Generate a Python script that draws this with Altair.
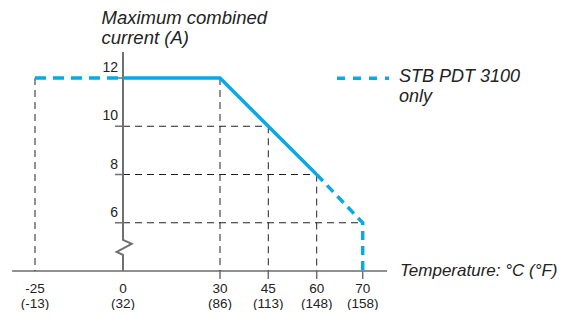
import altair as alt
import pandas as pd

# ---- data ----
temp_ticks = [-25, 0, 30, 45, 60, 70]
temp_f = ["(-13)", "(32)", "(86)", "(113)", "(148)", "(158)"]
current_ticks = [6, 8, 10, 12]

solid_temp = [0, 30, 60]
solid_current = [12, 12, 8]
low_temp = [-25, 0]
low_current = [12, 12]
high_temp = [60, 70, 70]
high_current = [8, 6, 4]

vguide_temp = [-25, 30, 45, 60]
vguide_top = [12, 12, 10, 8]
hguide_current = [10, 8, 6]
hguide_end = [45, 60, 70]
xtick_marks = [30, 45, 60, 70]

baseline_current = 4
axis_top_current = 13.08
xaxis_extent = [-31.5, 75.3]
break_temp = [0, 0, 2.7, -1.8, 0, 0]
break_current = [13.08, 5.29, 5.125, 4.79, 4.67, 4]

# ---- style ----
BLUE = "#0aa9e6"
GRAY = "#707070"
DARK = "#222222"
FONT = "Liberation Sans"

xs = alt.Scale(domain=temp_ticks, range=[27, 115, 212, 260.3, 308.7, 354.7], nice=False, zero=False)
ys = alt.Scale(domain=[4, 12], range=[263, 70], nice=False, zero=False)


def X(f):
    return alt.X(f, type="quantitative", scale=xs, axis=None)


def Y(f):
    return alt.Y(f, type="quantitative", scale=ys, axis=None)


vguides = pd.DataFrame({"t": vguide_temp, "top": vguide_top, "bot": [baseline_current] * len(vguide_temp)})
hguides = pd.DataFrame({"c": hguide_current, "end": hguide_end, "start": [0] * len(hguide_current)})
xaxis = pd.DataFrame({"t1": [xaxis_extent[0]], "t2": [xaxis_extent[1]], "c": [baseline_current]})
xticks = pd.DataFrame({"t": xtick_marks, "c": [baseline_current] * len(xtick_marks)})
yticks = pd.DataFrame({"c": current_ticks, "t": [0] * len(current_ticks), "lab": [str(v) for v in current_ticks]})
yaxis = pd.DataFrame({"t": break_temp, "c": break_current, "i": list(range(len(break_temp)))})
solid = pd.DataFrame({"t": solid_temp, "c": solid_current, "i": list(range(len(solid_temp)))})
low = pd.DataFrame({"t": low_temp, "c": low_current, "i": list(range(len(low_temp)))})
high = pd.DataFrame({"t": high_temp, "c": high_current, "i": list(range(len(high_temp)))})
xlabels = pd.DataFrame({
    "t": temp_ticks,
    "c": [baseline_current] * len(temp_ticks),
    "lab": [f"{c}\n{f}" for c, f in zip(temp_ticks, temp_f)],
})

layers = []

layers.append(alt.Chart(vguides).mark_rule(color=DARK, strokeWidth=1, strokeDash=[7, 5]).encode(
    x=X("t"), y=Y("top"), y2="bot"))
layers.append(alt.Chart(hguides).mark_rule(color=DARK, strokeWidth=1, strokeDash=[7, 5]).encode(
    x=X("start"), x2="end", y=Y("c")))
layers.append(alt.Chart(xaxis).mark_rule(color=DARK, strokeWidth=1.2).encode(
    x=X("t1"), x2="t2", y=Y("c")))
layers.append(alt.Chart(xticks).mark_rule(color=GRAY, strokeWidth=1.5).encode(
    x=X("t"), y=Y("c"), y2=alt.value(271)))
layers.append(alt.Chart(yticks).mark_rule(color=GRAY, strokeWidth=1.5).encode(
    x=X("t"), x2=alt.value(107), y=Y("c")))
layers.append(alt.Chart(yaxis).mark_line(color=GRAY, strokeWidth=2).encode(
    x=X("t"), y=Y("c"), order="i"))

layers.append(alt.Chart(low).mark_line(color=BLUE, strokeWidth=3.5, strokeDash=[11, 7], strokeCap="butt").encode(
    x=X("t"), y=Y("c"), order="i"))
layers.append(alt.Chart(high).mark_line(color=BLUE, strokeWidth=3.5, strokeDash=[9, 6], strokeCap="butt").encode(
    x=X("t"), y=Y("c"), order="i"))
layers.append(alt.Chart(solid).mark_line(color=BLUE, strokeWidth=3.5).encode(
    x=X("t"), y=Y("c"), order="i"))

layers.append(alt.Chart(yticks).mark_text(font=FONT, fontSize=14, color=DARK, align="right",
                                          baseline="alphabetic", dx=-5, dy=-6).encode(
    x=X("t"), y=Y("c"), text="lab"))
layers.append(alt.Chart(xlabels).mark_text(font=FONT, fontSize=13.5, color=DARK, align="center",
                                           baseline="alphabetic", dy=22, lineHeight=14.5, lineBreak="\n").encode(
    x=X("t"), y=Y("c"), text="lab"))

# annotations
ann = pd.DataFrame({"txt": ["Maximum combined\ncurrent (A)"]})
layers.append(alt.Chart(ann).mark_text(font=FONT, fontSize=18.5, fontStyle="italic", color=DARK, align="left",
                                       baseline="alphabetic", lineHeight=19.5, lineBreak="\n").encode(
    x=alt.value(93.5), y=alt.value(16), text="txt"))
leg = pd.DataFrame({"txt": ["STB PDT 3100\nonly"]})
layers.append(alt.Chart(leg).mark_text(font=FONT, fontSize=18, fontStyle="italic", color=DARK, align="left",
                                       baseline="alphabetic", lineHeight=20.5, lineBreak="\n").encode(
    x=alt.value(391), y=alt.value(73.7), text="txt"))
layers.append(alt.Chart(leg).mark_rule(color=BLUE, strokeWidth=3.5, strokeDash=[8, 8], strokeCap="butt").encode(
    x=alt.value(329), x2=alt.value(381), y=alt.value(70.3)))
tl = pd.DataFrame({"txt": ["Temperature: °C (°F)"]})
layers.append(alt.Chart(tl).mark_text(font=FONT, fontSize=17, fontStyle="italic", color=DARK, align="left",
                                      baseline="alphabetic").encode(
    x=alt.value(392), y=alt.value(267.5), text="txt"))

chart = alt.layer(*layers).properties(
    width=553, height=302, autosize=alt.AutoSizeParams(type="none"), padding=0,
    background="white",
).configure_view(stroke=None)

chart.save("out.html", embed_options={"renderer": "svg", "actions": False})
